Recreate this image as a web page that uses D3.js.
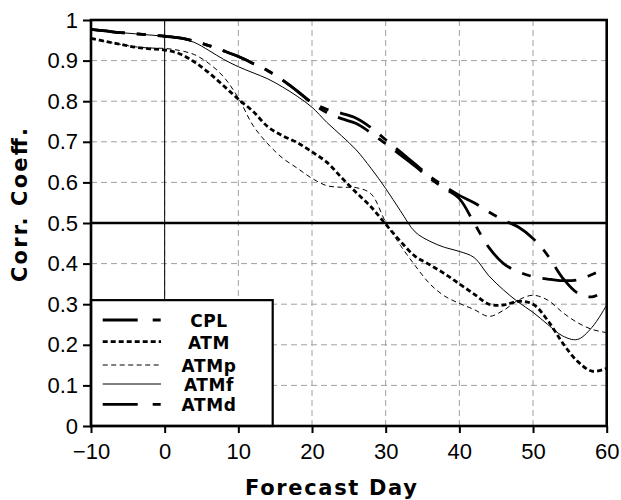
<!DOCTYPE html>
<meta charset="utf-8">
<style>
body { margin: 0; background: #fff; }
svg { display: block; font-family: 'Liberation Sans', Arial, sans-serif; }
.grid line { stroke: #a0a0a0; stroke-width: 1; stroke-dasharray: 6,4; }
.series { fill: none; stroke: #000; }
.title { font-family: 'DejaVu Sans', sans-serif; font-weight: bold; }
</style>
<body>
<svg width="621" height="500"></svg>
<script src="https://cdn.jsdelivr.net/npm/d3@7"></script>
<script>

var days = [-10,-8,-6,-4,-2,0,2,4,6,8,10,12,14,16,18,20,22,24,26,28,30,32,34,36,38,40,42,44,46,48,50,52,54,56,58,60];

var cpl  = [0.977,0.973,0.969,0.966,0.963,0.960,0.956,0.948,0.937,0.924,0.910,0.893,0.875,0.852,0.825,0.797,0.780,0.770,0.758,0.735,0.705,0.675,0.645,0.615,0.590,0.568,0.550,0.527,0.507,0.490,0.462,0.420,0.365,0.328,0.318,0.335];
var atm  = [0.955,0.947,0.940,0.933,0.929,0.926,0.917,0.897,0.870,0.838,0.805,0.775,0.737,0.715,0.698,0.675,0.650,0.612,0.575,0.540,0.497,0.455,0.418,0.397,0.375,0.350,0.325,0.300,0.298,0.307,0.300,0.260,0.205,0.160,0.135,0.142];
var atmp = [0.955,0.947,0.940,0.934,0.931,0.930,0.925,0.915,0.893,0.860,0.808,0.740,0.695,0.660,0.635,0.610,0.592,0.588,0.587,0.572,0.502,0.445,0.395,0.350,0.320,0.302,0.287,0.270,0.285,0.310,0.322,0.310,0.280,0.255,0.238,0.230];
var atmf = [0.975,0.972,0.969,0.966,0.963,0.960,0.955,0.945,0.925,0.903,0.885,0.870,0.855,0.835,0.812,0.785,0.748,0.715,0.680,0.635,0.585,0.530,0.478,0.455,0.440,0.430,0.415,0.370,0.335,0.305,0.280,0.250,0.222,0.213,0.243,0.298];
var atmd = [0.977,0.973,0.969,0.966,0.963,0.960,0.956,0.948,0.937,0.924,0.910,0.893,0.875,0.852,0.825,0.795,0.772,0.757,0.745,0.722,0.695,0.668,0.640,0.610,0.585,0.560,0.500,0.440,0.400,0.380,0.368,0.362,0.358,0.360,0.373,0.390];

var names = ["CPL", "ATM", "ATMp", "ATMf", "ATMd"];
var xTicks = [-10,0,10,20,30,40,50,60];
var yTicks = [0,0.1,0.2,0.3,0.4,0.5,0.6,0.7,0.8,0.9,1];

var styles = {
    CPL:  { width: 2.8, dash: "34,12,9,12" },
    ATM:  { width: 2.8, dash: "5,3" },
    ATMp: { width: 1,   dash: "5,3.5" },
    ATMf: { width: 1,   dash: null },
    ATMd: { width: 2.8, dash: "34,12,9,12" }
};
var values = { CPL: cpl, ATM: atm, ATMp: atmp, ATMf: atmf, ATMd: atmd };

var svg = d3.select("svg"),
    margin = {top: 20, left: 91},
    width = 515.7,
    height = 406,
    g = svg.append("g").attr("transform", "translate(" + margin.left + "," + margin.top + ")");

var x = d3.scaleLinear().domain([-10, 60]).range([0, width]);
var y = d3.scaleLinear().domain([0, 1]).range([height, 0]);

svg.append("defs").append("clipPath").attr("id", "clip")
    .append("rect").attr("width", width).attr("height", height);

// grid
var grid = g.append("g").attr("class", "grid");
grid.selectAll(".gx").data(xTicks.slice(1, -1)).enter().append("line")
    .attr("x1", function(d) { return x(d); }).attr("x2", function(d) { return x(d); })
    .attr("y1", 0).attr("y2", height);
grid.selectAll(".gy").data(yTicks.slice(1, -1)).enter().append("line")
    .attr("y1", function(d) { return y(d); }).attr("y2", function(d) { return y(d); })
    .attr("x1", 0).attr("x2", width);

// reference lines
g.append("line")
    .attr("x1", x(0)).attr("x2", x(0)).attr("y1", 0).attr("y2", y(0.31))
    .attr("stroke", "#000").attr("stroke-width", 1);
g.append("line")
    .attr("x1", 0).attr("x2", width).attr("y1", y(0.5)).attr("y2", y(0.5))
    .attr("stroke", "#000").attr("stroke-width", 2.5);

// curves
var line = d3.line()
    .x(function(d, i) { return x(days[i]); })
    .y(function(d) { return y(d); })
    .curve(d3.curveCatmullRom.alpha(0.5));

var curves = g.append("g").attr("clip-path", "url(#clip)");
names.forEach(function(n) {
    curves.append("path")
        .attr("class", "series")
        .attr("d", line(values[n]))
        .attr("stroke-width", styles[n].width)
        .attr("stroke-dasharray", styles[n].dash);
});

// axes
var xAxis = g.append("g")
    .attr("transform", "translate(0," + height + ")")
    .call(d3.axisBottom(x).tickValues(xTicks).tickSize(7).tickPadding(4)
        .tickFormat(function(d) { return d < 0 ? "\u2212" + (-d) : d; }));
var yAxis = g.append("g")
    .call(d3.axisLeft(y).tickValues(yTicks).tickSize(8).tickPadding(5)
        .tickFormat(function(d) { return d === 0 || d === 1 ? d : d.toFixed(1); }));

[xAxis, yAxis].forEach(function(a) {
    a.select(".domain").remove();
    a.selectAll("line").attr("stroke", "#000").attr("stroke-width", 2);
    a.selectAll("text").attr("fill", "#000")
        .style("font-size", "22px")
        .style("font-family", "'Liberation Sans', Arial, sans-serif");
});
xAxis.selectAll("text").attr("dy", "1.0em");

// legend
var legend = g.append("g");
legend.append("rect")
    .attr("x", 0).attr("y", y(0.31))
    .attr("width", 181.7).attr("height", height - y(0.31))
    .attr("fill", "#fff").attr("stroke", "#000").attr("stroke-width", 2.2);

var rowY = [300, 321.7, 345, 364, 384.3];
names.forEach(function(n, i) {
    var ly = rowY[i] - margin.top + 20;
    legend.append("line")
        .attr("x1", 11.7).attr("x2", 70).attr("y1", ly).attr("y2", ly)
        .attr("stroke", "#000")
        .attr("stroke-width", styles[n].width)
        .attr("stroke-dasharray", n === "CPL" || n === "ATMd" ? "35,15,8" : styles[n].dash);
    legend.append("text")
        .attr("class", "title")
        .attr("x", 118).attr("y", ly + 6.8)
        .attr("text-anchor", "middle")
        .style("font-size", "17px")
        .style("letter-spacing", "0.6px")
        .text(n);
});

// frame
g.append("rect")
    .attr("width", width).attr("height", height)
    .attr("fill", "none").attr("stroke", "#000").attr("stroke-width", 2.6);

// titles
svg.append("text")
    .attr("class", "title")
    .attr("x", 331).attr("y", 495)
    .attr("text-anchor", "middle")
    .attr("textLength", 172).attr("lengthAdjust", "spacing")
    .style("font-size", "21px")
    .text("Forecast Day");

svg.append("text")
    .attr("class", "title")
    .attr("transform", "translate(27,205) rotate(-90)")
    .attr("text-anchor", "middle")
    .attr("textLength", 154).attr("lengthAdjust", "spacing")
    .style("font-size", "21px")
    .text("Corr. Coeff.");

</script>
</body>
